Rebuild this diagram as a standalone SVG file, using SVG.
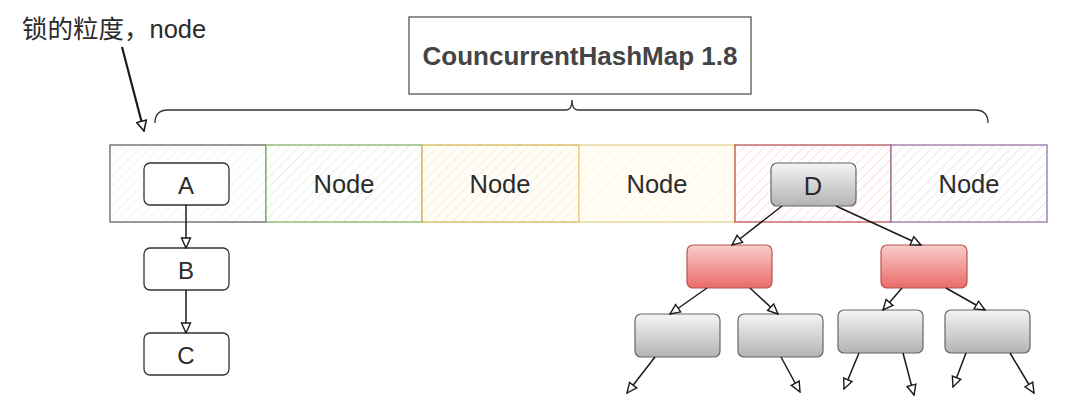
<svg xmlns="http://www.w3.org/2000/svg" width="1079" height="408" viewBox="0 0 1079 408">
<style>
.t{font-family:"Liberation Sans",Arial,sans-serif;fill:#2b2b2b;text-anchor:middle}
.cell{stroke-width:1.3}
.box{fill:#fff;stroke:#333;stroke-width:1.3}
.gry{fill:url(#gGrey);stroke:#666;stroke-width:1.2}
.red{fill:url(#gRed);stroke:#b85450;stroke-width:1.2}
.c{fill:none;stroke:#1a1a1a;stroke-width:1.5;marker-end:url(#ah)}
</style>
<defs>
<marker id="ah" viewBox="0 0 12 12" refX="11" refY="6" markerWidth="12" markerHeight="12" markerUnits="userSpaceOnUse" orient="auto">
<path d="M1,1.5 L11,6 L1,10.5 Z" fill="#fff" stroke="#1a1a1a" stroke-width="1.4"/>
</marker>
<marker id="ah2" viewBox="0 0 12 12" refX="11" refY="6" markerWidth="12" markerHeight="12" markerUnits="userSpaceOnUse" orient="auto">
<path d="M1,1 L11,6 L1,11 Z" fill="#fff" stroke="#1a1a1a" stroke-width="1.6"/>
</marker>
<linearGradient id="gGrey" x1="0" y1="0" x2="0" y2="1"><stop offset="0" stop-color="#f5f5f5"/><stop offset="1" stop-color="#b3b3b3"/></linearGradient>
<linearGradient id="gRed" x1="0" y1="0" x2="0" y2="1"><stop offset="0" stop-color="#f8cecc"/><stop offset="1" stop-color="#ea6b66"/></linearGradient>
<pattern id="hGrey" width="7" height="7" patternUnits="userSpaceOnUse" patternTransform="rotate(45)"><rect width="7" height="7" fill="#fff"/><line x1="0" y1="0" x2="0" y2="7" stroke="#eeeeee" stroke-width="1.2"/></pattern>
<pattern id="hGreen" width="7" height="7" patternUnits="userSpaceOnUse" patternTransform="rotate(45)"><rect width="7" height="7" fill="#fff"/><line x1="0" y1="0" x2="0" y2="7" stroke="#d5e8d4" stroke-width="1.2"/></pattern>
<pattern id="hOrange" width="7" height="7" patternUnits="userSpaceOnUse" patternTransform="rotate(45)"><rect width="7" height="7" fill="#fffdf8"/><line x1="0" y1="0" x2="0" y2="7" stroke="#fbe3c8" stroke-width="1.2"/></pattern>
<pattern id="hYellow" width="7" height="7" patternUnits="userSpaceOnUse" patternTransform="rotate(45)"><rect width="7" height="7" fill="#fffdf5"/><line x1="0" y1="0" x2="0" y2="7" stroke="#fff2cc" stroke-width="1.2"/></pattern>
<pattern id="hRed" width="7" height="7" patternUnits="userSpaceOnUse" patternTransform="rotate(45)"><rect width="7" height="7" fill="#fff"/><line x1="0" y1="0" x2="0" y2="7" stroke="#f8cecc" stroke-width="1.2"/></pattern>
<pattern id="hPurple" width="7" height="7" patternUnits="userSpaceOnUse" patternTransform="rotate(45)"><rect width="7" height="7" fill="#fff"/><line x1="0" y1="0" x2="0" y2="7" stroke="#e1d5e7" stroke-width="1.2"/></pattern>
</defs>
<rect width="1079" height="408" fill="#fff"/>

<g id="label">
<text x="22" y="38" style="font-family:'Liberation Sans','Noto Sans CJK SC',sans-serif;font-size:25.5px;fill:#2b2b2b">锁的粒度，node</text>
</g>

<g id="title">
<rect x="409" y="17" width="342" height="77" fill="#fff" stroke="#555" stroke-width="1.3"/>
<text class="t" x="580" y="65" style="font-size:26px;font-weight:bold;fill:#444">CouncurrentHashMap 1.8</text>
</g>

<g id="brace">
<path d="M155,123 Q155,110 168,110 L566,110 Q572,110 572,100 Q572,110 578,110 L975,110 Q988,110 988,123" fill="none" stroke="#333" stroke-width="1.3"/>
</g>

<g id="cell1"><rect class="cell" x="110" y="145" width="156" height="77" fill="url(#hGrey)" stroke="#666"/></g>
<g id="cell2"><rect class="cell" x="266" y="145" width="156" height="77" fill="url(#hGreen)" stroke="#82b366"/><text class="t" x="344" y="193" style="font-size:25.5px">Node</text></g>
<g id="cell3"><rect class="cell" x="422" y="145" width="157" height="77" fill="url(#hOrange)" stroke="#d6b656"/><text class="t" x="500" y="193" style="font-size:25.5px">Node</text></g>
<g id="cell4"><rect class="cell" x="579" y="145" width="156" height="77" fill="url(#hYellow)" stroke="#e6d48e"/><text class="t" x="657" y="193" style="font-size:25.5px">Node</text></g>
<g id="cell5"><rect class="cell" x="735" y="145" width="156" height="77" fill="url(#hRed)" stroke="#b85450"/></g>
<g id="cell6"><rect class="cell" x="891" y="145" width="156" height="77" fill="url(#hPurple)" stroke="#9673a6"/><text class="t" x="969" y="193" style="font-size:25.5px">Node</text></g>

<g id="A"><rect class="box" x="144" y="163" width="85" height="42" rx="6"/><text class="t" x="186" y="194" style="font-size:24px">A</text></g>
<g id="B"><rect class="box" x="144" y="248" width="85" height="42" rx="6"/><text class="t" x="186" y="279" style="font-size:24px">B</text></g>
<g id="C"><rect class="box" x="144" y="333" width="85" height="42" rx="6"/><text class="t" x="186" y="364" style="font-size:24px">C</text></g>

<g id="D"><rect class="gry" x="771" y="163" width="85" height="43" rx="6"/><text class="t" x="813" y="195" style="font-size:25.5px">D</text></g>
<g id="R1"><rect class="red" x="687" y="245" width="85" height="43" rx="6"/></g>
<g id="R2"><rect class="red" x="881" y="245" width="86" height="43" rx="6"/></g>
<g id="G1"><rect class="gry" x="635" y="314" width="85" height="43" rx="6"/></g>
<g id="G2"><rect class="gry" x="738" y="314" width="85" height="43" rx="6"/></g>
<g id="G3"><rect class="gry" x="838" y="310" width="85" height="43" rx="6"/></g>
<g id="G4"><rect class="gry" x="945" y="310" width="85" height="43" rx="6"/></g>

<g id="connectors">
<line x1="122" y1="47" x2="144" y2="131" stroke="#1a1a1a" stroke-width="2.2" marker-end="url(#ah2)"/>
<line class="c" x1="186" y1="205" x2="186" y2="248"/>
<line class="c" x1="186" y1="290" x2="186" y2="333"/>
<line class="c" x1="782" y1="206" x2="732" y2="245"/>
<line class="c" x1="836" y1="206" x2="921" y2="245"/>
<line class="c" x1="707" y1="288" x2="670" y2="314"/>
<line class="c" x1="750" y1="288" x2="778" y2="314"/>
<line class="c" x1="902" y1="288" x2="883" y2="310"/>
<line class="c" x1="946" y1="288" x2="985" y2="310"/>
<line class="c" x1="655" y1="357" x2="627" y2="393"/>
<line class="c" x1="781" y1="357" x2="800" y2="392"/>
<line class="c" x1="859" y1="353" x2="844" y2="389"/>
<line class="c" x1="903" y1="353" x2="914" y2="395"/>
<line class="c" x1="966" y1="353" x2="953" y2="387"/>
<line class="c" x1="1010" y1="353" x2="1034" y2="393"/>
</g>
</svg>
